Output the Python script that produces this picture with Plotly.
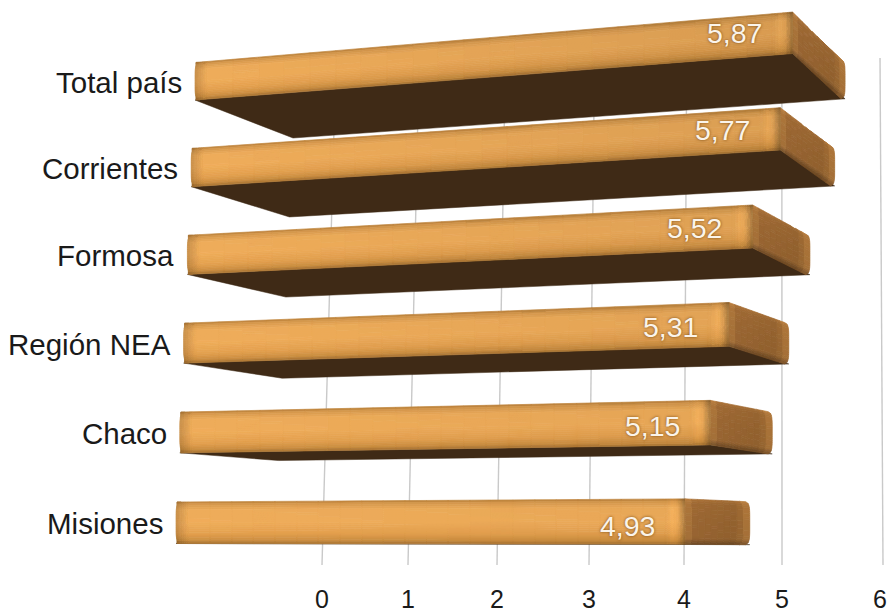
import math
import plotly.graph_objects as go

categories = ["Misiones", "Chaco", "Región NEA", "Formosa", "Corrientes", "Total país"]
values = [4.93, 5.15, 5.31, 5.52, 5.77, 5.87]
tick_values = [0, 1, 2, 3, 4, 5, 6]
tick_labels = ["0", "1", "2", "3", "4", "5", "6"]

W, H, BOTTOM = 888, 615, 33


# ---- perspective projection of the 3D scene onto the page ----
def front_x0(r): return 176 + 3.8 * r
def front_k(r): return 103.3 - 0.3 * r
def back_x0(r): return 275 + 3.6 * r
def back_k(r): return 96.3 - 0.45 * r
def front_top(r): return 502 - 90.4 * r + 0.5 * r * r
def front_h(r): return 41.5 - 0.8 * r
def back_bot(r): return 544 - 84 * r + 0.56 * r * r
def back_h(r): return 43 - 0.8 * r
def slope(y): return -0.0955 + 0.000178 * y


def front(v, r, t):
    """Front face point: value v, height fraction t (0 top, 1 bottom)."""
    x = front_x0(r) + front_k(r) * v
    y0 = front_top(r) + t * front_h(r)
    return x, y0 + slope(y0) * (x - front_x0(r))


def back(v, r, t):
    x = back_x0(r) + back_k(r) * v
    yb = back_bot(r)
    return x, yb + slope(yb) * (x - back_x0(r)) - (1 - t) * back_h(r)


def axis_x(v): return 322 + 84.5 * v + 1.5 * v * v
def axis_top_x(v): return axis_x(v) + 14 - 2.83 * v


def lerp_stops(stops, t):
    for (a, ca), (b, cb) in zip(stops, stops[1:]):
        if t <= b:
            f = (t - a) / (b - a)
            return [ca[i] + (cb[i] - ca[i]) * f for i in range(3)]
    return list(stops[-1][1])


FRONT_STOPS = [(0, (184, 126, 56)), (0.06, (214, 152, 76)), (0.2, (238, 172, 90)),
               (0.5, (240, 173, 90)), (0.78, (228, 160, 78)), (0.93, (204, 142, 64)), (1, (170, 116, 50))]
CAP_ACROSS = [(0, (176, 122, 62)), (0.12, (154, 102, 50)), (0.8, (146, 97, 46)), (0.95, (168, 114, 56)), (1, (178, 124, 62))]
CAP_DOWN = [(0, 1.12), (0.1, 1.03), (0.5, 1.0), (0.88, 0.98), (1, 0.72)]


def cap_down(t):
    for (a, ca), (b, cb) in zip(CAP_DOWN, CAP_DOWN[1:]):
        if t <= b:
            return ca + (cb - ca) * (t - a) / (b - a)
    return 1


def inset(t, R):
    d = abs(2 * t - 1)
    return R * (1 - math.sqrt(max(0, 1 - d ** 5)))


def mix(p, q, f):
    return (p[0] + (q[0] - p[0]) * f, p[1] + (q[1] - p[1]) * f)


groups = {}


def add(poly, rgb):
    key = tuple(min(255, max(0, int(round(c / 2) * 2))) for c in rgb)
    groups.setdefault(key, []).append(poly)


NT, NU = 22, 22
for r, v in enumerate(values):
    for j in range(NT):
        t0, t1 = j / NT, (j + 1) / NT
        tm = (t0 + t1) / 2
        L = v - 0.2
        us = [0, 0.01, 0.02, 0.03, 0.045, 0.06, 0.08, 0.1, 0.12] + [0.12 + i / NU * (L - 0.12) for i in range(1, NU + 1)]
        us += [v - 0.17, v - 0.14, v - 0.11, v - 0.09, v - 0.07, v - 0.05, v - 0.03, v - 0.015, v]
        for a, b in zip(us, us[1:]):
            m = (a + b) / 2
            base = lerp_stops(FRONT_STOPS, tm)
            shade = 1.0 - 0.10 * (m / 6) * (0.35 + 0.13 * r)
            shade *= 1 - 0.16 * max(0, 1 - m / 0.12)
            rest = v - m
            if rest < 0.2:
                bump = 0.05 * math.exp(-((rest - 0.12) / 0.04) ** 2)
                drop = 0.26 * max(0, 1 - rest / 0.07)
                shade *= 1 + bump - drop
            rgb = [c * shade for c in base]
            p0, q0, p1, q1 = front(a, r, t0), front(b, r, t0), front(a, r, t1), front(b, r, t1)
            i0 = inset(t0, 5) if a == 0 else 0
            i1 = inset(t1, 5) if a == 0 else 0
            add([(p0[0] + i0, p0[1]), q0, q1, (p1[0] + i1, p1[1])], rgb)
        # end cap, rounded at its outer corners
        nc = 10
        f0, f1 = front(v, r, t0), front(v, r, t1)
        b0, b1 = back(v, r, t0), back(v, r, t1)
        b0 = (b0[0] - inset(t0, 4), b0[1])
        b1 = (b1[0] - inset(t1, 4), b1[1])
        for c in range(nc):
            s0, s1 = c / nc, (c + 1) / nc
            col = [x * cap_down(tm) for x in lerp_stops(CAP_ACROSS, (s0 + s1) / 2)]
            add([mix(f0, b0, s0), mix(f0, b0, s1), mix(f1, b1, s1), mix(f1, b1, s0)], col)

traces = []

# gridlines, drawn from the axis scale
for v in tick_values:
    traces.append(go.Scatter(x=[axis_top_x(v), axis_x(v)], y=[58, 565], mode="lines",
                             line=dict(color="#c9c9c9", width=1.4), hoverinfo="skip"))

# underside of each bar
for r, v in enumerate(values):
    pts = [front(0, r, 1), front(v, r, 1), back(v, r, 1), back(0, r, 1), front(0, r, 1)]
    traces.append(go.Scatter(x=[p[0] for p in pts], y=[p[1] for p in pts], mode="lines",
                             fill="toself", fillcolor="#3f2a16",
                             line=dict(color="#3f2a16", width=0.5), hoverinfo="skip"))

for rgb, polys in groups.items():
    xs, ys = [], []
    for poly in polys:
        xs += [p[0] for p in poly] + [poly[0][0], None]
        ys += [p[1] for p in poly] + [poly[0][1], None]
    col = "rgb(%d,%d,%d)" % rgb
    traces.append(go.Scatter(x=xs, y=ys, mode="lines", fill="toself", fillcolor=col,
                             line=dict(color=col, width=0.7), hoverinfo="skip"))

annotations = []
for r, (name, v) in enumerate(zip(categories, values)):
    annotations.append(dict(x=165 + 3.8 * r, y=front_top(r) + front_h(r) / 2 + 1, text=name,
                            xanchor="right", yanchor="middle", showarrow=False,
                            font=dict(size=29.5, color="#1a1a1a", family="Liberation Sans")))
    fx = front(v, r, 0)[0] - 58
    ft = front((fx - front_x0(r)) / front_k(r), r, 0.5)[1]
    annotations.append(dict(x=fx, y=ft + 3.9 - 1.7 * r, text=f"{v:.2f}".replace(".", ","),
                            xanchor="center", yanchor="middle", showarrow=False,
                            font=dict(size=28.5, color="#fbf4ea", family="Liberation Sans",
                                      shadow="0px 0px 3px rgba(90,50,0,0.8)")))

fig = go.Figure(traces)
fig.update_layout(
    width=W, height=H, showlegend=False, plot_bgcolor="white", paper_bgcolor="white",
    margin=dict(l=0, r=0, t=0, b=BOTTOM, pad=0), annotations=annotations,
    xaxis=dict(range=[0, W], tickvals=[min(axis_x(v), W - 8) for v in tick_values], ticktext=tick_labels,
               showgrid=False, zeroline=False, showline=False, ticks="", automargin=False,
               ticklabeloverflow="allow",
               tickfont=dict(size=25, color="#1a1a1a", family="Liberation Sans")),
    yaxis=dict(range=[H - BOTTOM, 0], visible=False, automargin=False),
)
fig.write_html("out.html", config={"displayModeBar": False},
               post_script="document.body.style.margin='0';document.body.style.overflow='hidden';")
